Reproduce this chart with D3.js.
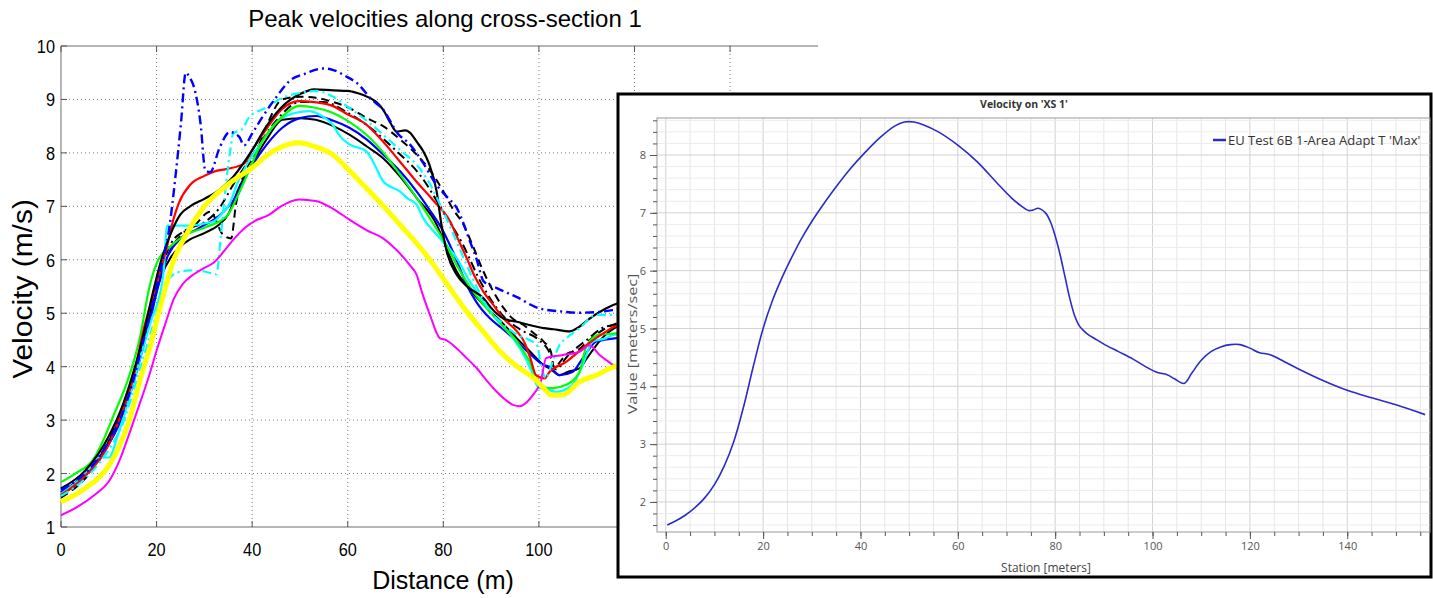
<!DOCTYPE html>
<html><head><meta charset="utf-8">
<script src="https://cdn.jsdelivr.net/npm/d3@7"></script>
<style>body{margin:0;background:#fff;} svg{display:block;}</style>
</head><body>
<svg id="c" width="1433" height="598"></svg>
<script>
// ---------- LEFT CHART DATA (Distance m, Velocity m/s) ----------
const leftTitle = "Peak velocities along cross-section 1";
const leftXLabel = "Distance (m)";
const leftYLabel = "Velocity (m/s)";
const leftXTicks = [0,20,40,60,80,100,120,140,160];
const leftYTicks = [1,2,3,4,5,6,7,8,9,10];

const blackUpper = [[0,1.72],[5,2.05],[10,2.7],[13,3.3],[15,3.85],[17,4.5],[19,5.3],[21,6.0],[23,6.5],[25,6.85],[27,7.0],[30,7.14],[33,7.3],[36,7.55],[40,8.05],[43,8.5],[46,8.84],[50,9.1],[53,9.19],[57,9.17],[60,9.16],[62,9.12],[64.6,9.03],[66,8.95],[67.4,8.81],[69,8.55],[70.2,8.4],[72,8.42],[73,8.38],[74.5,8.2],[75.8,8.03],[77,7.8],[78.6,7.28],[79.6,6.66],[80.7,6.16],[82.8,5.72],[85,5.5],[88.4,5.28],[90,5.1],[92.6,4.9],[95.4,4.84],[98,4.78],[101,4.72],[103,4.7],[106.4,4.66],[108.5,4.75],[110.6,4.9],[114,5.09],[117,5.2],[120,5.25],[125,5.3]];
const blackLower = [[0,1.6],[5,1.95],[10,2.6],[13,3.2],[15,3.75],[17,4.4],[19,5.1],[21,5.7],[23,6.05],[25,6.25],[27,6.38],[30,6.5],[33,6.65],[35,6.85],[37,7.3],[40,7.8],[43,8.25],[46.3,8.62],[50,8.65],[53.3,8.62],[57,8.5],[60.35,8.34],[64,8.12],[67.4,7.9],[71,7.55],[74.4,7.16],[78.6,6.66],[80.5,6.25],[82.8,5.78],[85,5.5],[88.4,5.16],[92,4.85],[95.4,4.53],[98,4.3],[101,4.03],[102.5,3.95],[104.3,3.84],[106,3.9],[108.5,3.97],[110,4.15],[112,4.4],[114,4.6],[115.8,4.72],[118,4.8],[125,4.85]];
const blackDashed = [[0,1.55],[5,1.9],[10,2.55],[13,3.15],[15,3.7],[17,4.35],[19,5.1],[21,5.75],[23,6.2],[25,6.45],[28,6.65],[31.2,6.9],[33.9,6.47],[35.6,6.4],[36.6,7.03],[38,7.54],[40.7,7.98],[43,8.5],[46.3,9.0],[50,9.05],[53.3,9.03],[57,8.95],[60.35,8.84],[64,8.65],[67.4,8.5],[71,8.25],[74.4,7.97],[77,7.7],[80,7.28],[82,6.95],[84.2,6.66],[86,6.3],[88.4,5.78],[90.5,5.4],[92.6,5.1],[94.5,4.9],[96.8,4.78],[99,4.62],[101,4.47],[102.5,4.28],[103.2,3.97],[104.5,4.1],[106,4.25],[108,4.3],[110,4.45],[112,4.6],[114,4.72],[116,4.8],[120,4.85],[125,4.9]];
const blackDashDot = [[0,1.65],[5,2.0],[10,2.62],[15,3.8],[19,5.2],[21,5.85],[23,6.3],[26,6.55],[30,6.7],[33,6.95],[36,7.4],[40,7.95],[45,8.6],[50,8.95],[55,8.95],[60,8.75],[65,8.45],[70,8.05],[75,7.6],[80,6.9],[84,6.3],[88,5.55],[92,5.0],[96,4.7],[100,4.5],[102,4.3],[103.5,3.95],[106,4.2],[110,4.5],[114,4.75],[118,4.8],[125,4.85]];
const blueSolid = [[0,1.65],[5,1.98],[10,2.55],[13,3.1],[15,3.65],[17,4.3],[19,5.0],[20,5.39],[22,6.0],[25,6.4],[28,6.55],[30,6.65],[32,6.75],[34,6.9],[36,7.1],[39.3,7.66],[43,8.15],[46.3,8.47],[50,8.65],[53.3,8.69],[57,8.6],[60.35,8.47],[64,8.25],[67.4,7.97],[71,7.65],[74.4,7.28],[77,6.95],[80,6.53],[82.5,6.05],[84.9,5.53],[87,5.2],[89.8,4.9],[92.5,4.7],[95.4,4.47],[98,4.25],[101,4.03],[102.2,4.0],[104.3,3.84],[107,3.9],[109.2,4.16],[112,4.47],[115.8,4.53],[118,4.55],[125,4.6]];
const blueDashDot = [[0,1.7],[5,2.0],[10,2.6],[13,3.15],[15,3.7],[17,4.4],[19,5.1],[21,5.9],[22.5,6.5],[24,7.6],[25.1,8.55],[26.1,9.5],[27,9.4],[27.8,9.24],[29.2,8.55],[30.2,7.67],[31.2,7.64],[33.2,8.1],[35.3,8.39],[37.3,8.3],[38.3,8.14],[40,8.36],[42,8.65],[44.7,9.0],[48,9.36],[51,9.48],[55,9.58],[57,9.55],[59.7,9.43],[62,9.3],[65,9.0],[67.4,8.81],[70.5,8.36],[73,8.16],[75.5,7.85],[78.6,7.4],[80.5,7.2],[82.8,6.97],[85.6,6.34],[87,6.0],[88.4,5.6],[91.2,5.47],[95.4,5.3],[100.1,5.09],[105,5.03],[108.5,5.01],[112,5.02],[115.5,5.06],[118,5.1],[125,5.15]];
const cyanSolid = [[0,1.62],[4,1.9],[6,2.1],[7,2.3],[10,2.3],[12,2.75],[15,3.65],[17,4.3],[19,4.9],[20,5.14],[21.5,5.8],[22.2,6.64],[25,6.64],[27,6.64],[30,6.68],[32,6.72],[34,6.9],[35,7.0],[37,7.45],[39,7.8],[42,8.2],[46.3,8.66],[51.9,8.78],[54,8.72],[56.8,8.53],[58.5,8.3],[60.35,8.16],[63.9,8.03],[65.5,7.8],[67.4,7.47],[70.9,7.28],[72.5,7.15],[74.4,7.03],[75.8,6.78],[78.6,6.47],[82.8,6.03],[85.5,5.6],[88.4,5.22],[91,4.9],[94,4.6],[96,4.35],[98.2,3.97],[100,3.6],[101.5,3.58],[103.6,3.53],[107,3.66],[109,4.0],[111.3,4.47],[114,4.53],[115.8,4.6],[118,4.6],[125,4.65]];
const cyanDashDot = [[0,1.58],[5,1.9],[10,2.45],[13,2.95],[15,3.5],[17,4.1],[19,4.7],[20,5.0],[22,5.55],[24,5.75],[27,5.8],[30,5.78],[32.5,5.73],[33.5,6.5],[34.5,7.4],[35.5,8.1],[36,8.36],[38,8.45],[39.3,8.66],[43,8.85],[46.3,9.03],[50,9.12],[53.3,9.16],[57,9.05],[60.35,8.84],[64,8.6],[67.4,8.34],[71,8.05],[74.4,7.78],[77,7.45],[80,6.9],[82.5,6.4],[84.9,5.9],[87.5,5.4],[89.8,5.03],[92.5,4.8],[95.4,4.6],[98,4.5],[99.6,4.4],[100.5,4.0],[101.5,3.78],[102.5,4.0],[104.3,4.4],[106,4.55],[108.5,4.72],[112,4.97],[115.5,4.97],[120,5.0],[125,5.05]];
const redSolid = [[0,1.6],[5,1.95],[10,2.55],[13,3.2],[15,3.75],[17.3,4.7],[20.1,5.58],[22.2,6.26],[23.5,6.75],[24.7,7.07],[27,7.4],[30,7.57],[32,7.65],[34.8,7.7],[38.3,7.8],[40,8.05],[43,8.45],[46,8.8],[49.8,8.97],[53,8.95],[56.8,8.88],[60,8.72],[63.9,8.53],[67,8.25],[70.9,7.84],[74.5,7.45],[78,7.1],[81.4,6.72],[83,6.4],[84.9,6.03],[86.5,5.7],[88.4,5.4],[90.5,5.15],[92.6,4.9],[95.4,4.66],[97,4.45],[98.2,4.16],[99.4,3.84],[101.2,3.78],[102.2,3.9],[105.7,4.09],[109.9,4.4],[114.1,4.66],[115.8,4.75],[118,4.78],[125,4.8]];
const greenSolid = [[0,1.84],[3,2.0],[6.9,2.28],[9,2.65],[11,3.09],[13.8,3.7],[16.6,4.58],[18.4,5.45],[20.1,5.95],[23,6.26],[26.4,6.48],[30,6.6],[34.8,6.83],[37,7.2],[39,7.6],[42,8.2],[46,8.65],[49.8,8.88],[53,8.85],[56.8,8.75],[60,8.6],[63.9,8.34],[67.5,8.0],[70.9,7.6],[74.5,7.15],[78,6.66],[80.5,6.3],[82.8,5.9],[85.5,5.5],[88.4,5.16],[92,4.8],[95.4,4.47],[98,4.1],[99.6,3.78],[101.8,3.6],[103,3.6],[105.7,3.66],[108.5,3.9],[110,4.4],[112.7,4.6],[115.8,4.62],[118,4.65],[125,4.7]];
const yellowThick = [[0,1.47],[5,1.72],[10,2.15],[12.4,2.55],[14.3,3.0],[16.6,3.77],[18.7,4.4],[20.8,5.14],[23.6,6.0],[26.4,6.5],[30,7.0],[34.8,7.4],[40.4,7.75],[43,7.95],[46.3,8.12],[49.8,8.19],[53,8.12],[56.8,7.97],[60,7.7],[63.9,7.34],[67.5,7.0],[70.9,6.66],[74.5,6.3],[78,5.9],[81.5,5.45],[84.9,5.03],[88.4,4.65],[91.9,4.28],[95.5,4.0],[99,3.78],[101,3.6],[102.5,3.47],[105,3.47],[108.5,3.72],[112,3.84],[115.8,4.0],[120,4.05],[125,4.1]];
const magentaSolid = [[0,1.22],[3.5,1.38],[7,1.6],[10,1.85],[12.4,2.28],[14.5,2.8],[16.6,3.34],[18.5,3.85],[20.1,4.33],[22,4.85],[23.6,5.27],[25.5,5.55],[27.8,5.73],[30,5.85],[32,5.95],[34,6.15],[36.2,6.39],[38.5,6.6],[40.4,6.72],[43.5,6.84],[46,7.0],[49.8,7.13],[53.3,7.1],[57,6.95],[60.35,6.75],[64,6.55],[67.4,6.4],[70,6.2],[73,5.9],[74.4,5.72],[75.5,5.4],[77.2,4.97],[79.3,4.53],[80.5,4.5],[82.8,4.34],[85,4.15],[87,3.97],[89,3.75],[91.2,3.53],[93,3.38],[94.7,3.28],[96,3.26],[97.5,3.34],[99,3.5],[100.4,3.72],[101.5,4.16],[105,4.22],[108.5,4.28],[110.6,4.4],[112.7,4.22],[115.5,4.03],[118,3.85],[125,3.7]];

// ---------- RIGHT CHART DATA (Station m, Value m/s) ----------
const rightTitle = "Velocity on 'XS 1'";
const rightXLabel = "Station [meters]";
const rightYLabel = "Value [meters/sec]";
const rightLegend = "EU Test 6B 1-Area Adapt T 'Max'";
const rightXTicks = [0,20,40,60,80,100,120,140];
const rightYTicks = [2,3,4,5,6,7,8];
const stationX = [0.3,2,4,6,8,10,12,14,16,18,20,22,24,26,28,30,32,35,38,41,44,47,49,51,53,56,60,64,68,71,73,74.5,75.5,76.5,78,79,80,81,82,83,84,85,86,87,88,90,93,96,99,101,103,104.5,106.5,108,110,112,114,116,118,120,122,124,127,130,135,140,145,150,156];
const velocityMax = [1.6,1.67,1.77,1.9,2.07,2.3,2.62,3.05,3.65,4.35,5.0,5.5,5.9,6.25,6.57,6.85,7.1,7.45,7.77,8.05,8.3,8.5,8.57,8.57,8.52,8.4,8.17,7.88,7.52,7.26,7.12,7.04,7.05,7.08,7.0,6.85,6.6,6.28,5.9,5.52,5.22,5.04,4.95,4.88,4.83,4.73,4.6,4.47,4.32,4.24,4.2,4.13,4.05,4.22,4.45,4.6,4.68,4.72,4.72,4.66,4.58,4.55,4.43,4.3,4.1,3.93,3.8,3.68,3.51];

// ================= DRAW =================
const svg = d3.select("#c");
const LF = "'Liberation Sans', Arial, sans-serif";
const xL = d3.scaleLinear().domain([0,158.4]).range([61,818]);
const yL = d3.scaleLinear().domain([1,10]).range([527,46]);
const gL = svg.append("g");

// dotted grid
gL.selectAll(".vg").data(leftXTicks.filter(d=>d>0 && xL(d)<=818)).enter().append("line")
  .attr("x1",d=>xL(d)).attr("x2",d=>xL(d)).attr("y1",yL(10)).attr("y2",yL(1))
  .attr("stroke","#7a7a7a").attr("stroke-width",1).attr("stroke-dasharray","1,3");
gL.selectAll(".hg").data(leftYTicks.filter(d=>d>1 && d<10)).enter().append("line")
  .attr("x1",xL(0)).attr("x2",818).attr("y1",d=>yL(d)).attr("y2",d=>yL(d))
  .attr("stroke","#7a7a7a").attr("stroke-width",1).attr("stroke-dasharray","1,3");

// frame
gL.append("line").attr("x1",xL(0)).attr("x2",818).attr("y1",yL(10)).attr("y2",yL(10)).attr("stroke","#6e6e6e");
gL.append("line").attr("x1",xL(0)).attr("x2",818).attr("y1",yL(1)).attr("y2",yL(1)).attr("stroke","#6e6e6e");
gL.append("line").attr("x1",xL(0)).attr("x2",xL(0)).attr("y1",yL(10)).attr("y2",yL(1)).attr("stroke","#6e6e6e");
gL.selectAll(".tt").data(leftXTicks.filter(d=>xL(d)<=818)).enter().append("line")
  .attr("x1",d=>xL(d)).attr("x2",d=>xL(d)).attr("y1",yL(10)).attr("y2",yL(10)+6).attr("stroke","#555");
gL.selectAll(".tb").data(leftXTicks.filter(d=>xL(d)<=818)).enter().append("line")
  .attr("x1",d=>xL(d)).attr("x2",d=>xL(d)).attr("y1",yL(1)).attr("y2",yL(1)-6).attr("stroke","#555");
gL.selectAll(".tl").data(leftYTicks).enter().append("line")
  .attr("x1",xL(0)).attr("x2",xL(0)+6).attr("y1",d=>yL(d)).attr("y2",d=>yL(d)).attr("stroke","#555");

// series
const lineL = d3.line().x(d=>xL(d[0])).y(d=>yL(d[1])).curve(d3.curveMonotoneX);
const leftSeries = [
  {d:blackLower, c:"#000", w:2, dash:null},
  {d:blackDashDot, c:"#000", w:2, dash:"9,4,2,4"},
  {d:blackDashed, c:"#000", w:2, dash:"8,5"},
  {d:blueSolid, c:"#0000ff", w:2.2, dash:null},
  {d:cyanSolid, c:"#00ffff", w:2.2, dash:null},
  {d:greenSolid, c:"#00ff00", w:2.2, dash:null},
  {d:redSolid, c:"#ff0000", w:2.2, dash:null},
  {d:blackUpper, c:"#000", w:2.2, dash:null},
  {d:cyanDashDot, c:"#00ffff", w:2.2, dash:"9,4,2,4"},
  {d:blueDashDot, c:"#0000ff", w:2.4, dash:"9,4,2,4"},
  {d:magentaSolid, c:"#ff00ff", w:2, dash:null},
  {d:yellowThick, c:"#ffff00", w:5, dash:null}
];
gL.selectAll(".s").data(leftSeries).enter().append("path")
  .attr("d",s=>lineL(s.d)).attr("fill","none").attr("stroke",s=>s.c)
  .attr("stroke-width",s=>s.w).attr("stroke-dasharray",s=>s.dash)
  .attr("stroke-linejoin","round");

// labels (Arial look)
function ctext(g,x,y,str,size,anchor,rot,sx){
  const t=g.append("text").attr("transform",`translate(${x},${y})`+(rot?` rotate(${rot})`:"")+` scale(${sx||1},1)`)
    .attr("font-family",LF).attr("font-size",size).attr("text-anchor",anchor||"middle").attr("fill","#000").text(str);
  return t;
}
leftXTicks.filter(d=>xL(d)<=818).forEach(d=>ctext(gL,xL(d),556,d,19,"middle",0,0.86));
leftYTicks.forEach(d=>ctext(gL,xL(0)-6,yL(d)+7,d,19,"end",0,0.86));
ctext(gL,445,27,leftTitle,24,"middle",0,1);
ctext(gL,443,589,leftXLabel,25,"middle",0,1);
ctext(gL,32,289,leftYLabel,28,"middle",-90,1.07);

// ---------------- RIGHT CHART ----------------
const RF = "'Open Sans', 'Noto Sans', sans-serif";
const gR = svg.append("g");
gR.append("rect").attr("x",618).attr("y",94).attr("width",813).attr("height",483)
  .attr("fill","#fff").attr("stroke","#000").attr("stroke-width",3);
const xR = d3.scaleLinear().domain([-1.8,157]).range([657,1430]);
const yR = d3.scaleLinear().domain([1.48,8.64]).range([532,118]);
const minorX = d3.range(0,156,5);
const minorY = d3.range(1.6,8.61,0.2);
gR.selectAll(".gx").data(minorX).enter().append("line")
  .attr("x1",d=>xR(d)).attr("x2",d=>xR(d)).attr("y1",yR.range()[1]).attr("y2",yR.range()[0])
  .attr("stroke",d=>d%20===0?"#d2d2d2":"#e6e6e6").attr("stroke-width",1);
gR.selectAll(".gy").data(minorY).enter().append("line")
  .attr("x1",xR.range()[0]).attr("x2",xR.range()[1]).attr("y1",d=>yR(d)).attr("y2",d=>yR(d))
  .attr("stroke",d=>Math.abs(d-Math.round(d))<0.01?"#d2d2d2":"#ececec").attr("stroke-width",1);
gR.append("rect").attr("x",xR.range()[0]).attr("y",yR.range()[1])
  .attr("width",xR.range()[1]-xR.range()[0]).attr("height",yR.range()[0]-yR.range()[1])
  .attr("fill","none").attr("stroke","#9a9a9a").attr("stroke-width",1);

// axes
const axY = gR.append("g").attr("transform",`translate(${xR.range()[0]},0)`)
  .call(d3.axisLeft(yR).tickValues(rightYTicks).tickSize(7).tickPadding(4).tickFormat(d3.format("d")));
const axYm = gR.append("g").attr("transform",`translate(${xR.range()[0]},0)`)
  .call(d3.axisLeft(yR).tickValues(minorY).tickSize(4).tickFormat(""));
const axX = gR.append("g").attr("transform",`translate(0,${yR.range()[0]})`)
  .call(d3.axisBottom(xR).tickValues(rightXTicks).tickSize(7).tickPadding(3).tickFormat(d3.format("d")));
const axXm = gR.append("g").attr("transform",`translate(0,${yR.range()[0]})`)
  .call(d3.axisBottom(xR).tickValues(minorX).tickSize(4).tickFormat(""));
[axY,axYm,axX,axXm].forEach(a=>{
  a.select(".domain").remove();
  a.selectAll("line").attr("stroke","#555");
  a.selectAll("text").attr("font-family",RF).attr("font-size",11).attr("fill","#555");
});

// curve
gR.append("path").datum(stationX.map((x,i)=>[x,velocityMax[i]]))
  .attr("d",d3.line().x(d=>xR(d[0])).y(d=>yR(d[1])).curve(d3.curveCatmullRom.alpha(0.5)))
  .attr("fill","none").attr("stroke","#2b2bc8").attr("stroke-width",1.6);

// texts
gR.append("text").attr("x",1024).attr("y",108).attr("text-anchor","middle")
  .attr("font-family",RF).attr("font-size",10.5).attr("font-weight","bold").attr("fill","#333").text(rightTitle);
gR.append("text").attr("transform",`translate(637,344) rotate(-90) scale(1.3,1)`).attr("text-anchor","middle")
  .attr("font-family",RF).attr("font-size",12.5).attr("fill","#555").text(rightYLabel);
gR.append("text").attr("transform","translate(1046,572) scale(1,1.1)").attr("text-anchor","middle")
  .attr("font-family",RF).attr("font-size",12).attr("fill","#444").text(rightXLabel);
gR.append("line").attr("x1",1213).attr("x2",1226).attr("y1",140).attr("y2",140)
  .attr("stroke","#2b2bc8").attr("stroke-width",2.5);
gR.append("text").attr("x",1228).attr("y",145).attr("font-family",RF).attr("font-size",13)
  .attr("fill","#333").text(rightLegend);
</script>
</body></html>
